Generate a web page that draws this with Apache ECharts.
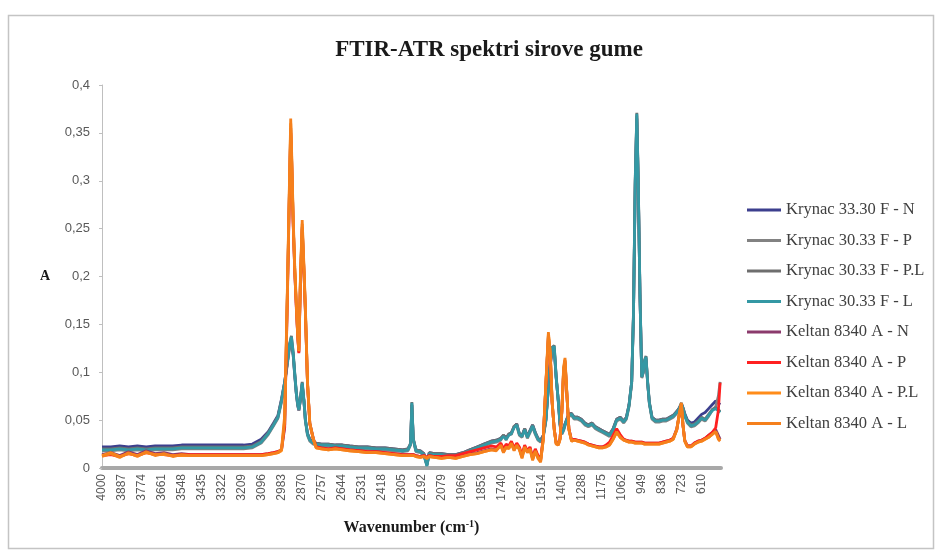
<!DOCTYPE html>
<html>
<head>
<meta charset="utf-8">
<script src="https://cdn.jsdelivr.net/npm/echarts@6/dist/echarts.min.js"></script>
<style>
html,body{margin:0;padding:0;background:#fff;}
#chart{width:938px;height:554px;}
</style>
</head>
<body>
<div id="chart"></div>
<script>
// Wavenumbers (cm-1), descending
const wavenumbers = [
  4000,3950,3900,3850,3800,3750,3700,3650,3600,3550,
  3500,3450,3400,3350,3300,3250,3200,3150,3100,3060,
  3030,3005,2985,2967,2952,2940,2933,2929,2919,2910,
  2901,2893,2887,2878,2868,2858,2850,2838,2825,2805,
  2789,2760,2720,2680,2640,2600,2550,2500,2450,2400,
  2350,2300,2270,2255,2248,2240,2225,2200,2180,2163,
  2150,2120,2080,2040,2000,1960,1920,1880,1840,1800,
  1770,1745,1730,1715,1700,1685,1670,1655,1640,1625,
  1610,1595,1580,1565,1550,1535,1520,1505,1490,1476,
  1465,1455,1443,1432,1420,1410,1400,1390,1382,1372,
  1360,1345,1330,1310,1290,1270,1250,1230,1210,1190,
  1170,1150,1130,1110,1090,1070,1050,1035,1020,1005,
  995,985,976,968,958,948,940,932,924,915,
  905,890,870,850,830,810,790,770,750,735,
  724,715,705,690,670,650,630,610,590,570,
  550,530,515,505
];

const krynacN = [
  .022,.022,.023,.022,.023,.022,.023,.023,.023,.024,
  .024,.024,.024,.024,.024,.024,.024,.025,.030,.038,
  .047,.055,.072,.090,.110,.127,.133,.135,.118,.096,
  .077,.065,.060,.071,.087,.069,.050,.036,.030,.027,
  .026,.025,.025,.024,.024,.023,.022,.022,.021,.021,
  .020,.019,.020,.025,.066,.030,.019,.018,.015,.004,
  .016,.015,.015,.014,.014,.016,.019,.022,.025,.028,
  .029,.031,.034,.032,.035,.037,.043,.046,.036,.034,
  .041,.033,.039,.045,.037,.031,.029,.034,.051,.084,
  .108,.122,.124,.094,.070,.046,.037,.041,.046,.051,
  .056,.057,.053,.053,.051,.047,.045,.047,.043,.041,
  .039,.037,.035,.041,.051,.053,.049,.053,.066,.090,
  .158,.295,.365,.296,.178,.095,.100,.111,.114,.089,
  .068,.053,.050,.050,.051,.051,.053,.055,.059,.063,
  .067,.063,.057,.050,.047,.048,.052,.056,.058,.062,
  .066,.070,.068,.066
];
const krynacP = [
  .018,.018,.019,.018,.019,.018,.019,.019,.019,.020,
  .020,.020,.020,.020,.020,.020,.020,.021,.026,.035,
  .044,.052,.069,.088,.108,.125,.131,.134,.118,.097,
  .077,.065,.060,.071,.088,.069,.049,.034,.028,.025,
  .024,.023,.023,.022,.022,.021,.020,.020,.019,.019,
  .018,.017,.018,.024,.066,.029,.017,.016,.013,.003,
  .014,.013,.013,.012,.012,.014,.017,.020,.023,.026,
  .027,.029,.035,.029,.036,.035,.044,.044,.034,.032,
  .041,.031,.037,.043,.035,.029,.027,.032,.049,.083,
  .108,.123,.125,.094,.069,.044,.035,.039,.044,.049,
  .054,.055,.051,.051,.049,.045,.043,.045,.041,.039,
  .037,.035,.033,.039,.049,.051,.047,.051,.064,.088,
  .158,.298,.368,.298,.178,.094,.099,.111,.115,.089,
  .067,.051,.048,.048,.049,.049,.051,.053,.057,.061,
  .066,.061,.054,.047,.043,.044,.047,.051,.049,.054,
  .060,.064,.075,.090
];
const krynacPL = [
  .020,.020,.021,.020,.021,.020,.021,.021,.021,.022,
  .022,.022,.022,.022,.022,.022,.022,.023,.028,.037,
  .046,.054,.071,.090,.111,.129,.135,.138,.121,.099,
  .079,.067,.062,.073,.090,.071,.051,.036,.030,.027,
  .026,.025,.025,.024,.024,.023,.022,.022,.021,.021,
  .020,.019,.020,.026,.069,.031,.019,.018,.015,.003,
  .016,.015,.015,.014,.014,.016,.019,.022,.025,.028,
  .029,.031,.034,.031,.035,.037,.043,.046,.036,.034,
  .041,.033,.039,.045,.037,.031,.029,.034,.051,.086,
  .111,.126,.128,.096,.071,.046,.037,.041,.046,.051,
  .056,.057,.053,.053,.051,.047,.045,.047,.043,.041,
  .039,.037,.035,.041,.051,.053,.049,.053,.066,.090,
  .162,.302,.371,.302,.182,.096,.101,.113,.117,.091,
  .069,.053,.050,.050,.051,.051,.053,.055,.059,.063,
  .068,.063,.056,.049,.045,.046,.049,.053,.051,.056,
  .061,.063,.061,.059
];
const krynacL = [
  .019,.019,.020,.019,.020,.019,.020,.020,.020,.021,
  .021,.021,.021,.021,.021,.021,.021,.022,.027,.036,
  .045,.053,.070,.089,.110,.128,.134,.137,.120,.098,
  .078,.066,.061,.072,.089,.070,.050,.035,.029,.026,
  .025,.024,.024,.023,.023,.022,.021,.021,.020,.020,
  .019,.018,.019,.025,.068,.030,.018,.017,.014,.002,
  .015,.014,.014,.013,.013,.015,.018,.021,.024,.027,
  .028,.030,.033,.030,.034,.036,.042,.045,.035,.033,
  .040,.032,.038,.044,.036,.030,.028,.033,.050,.085,
  .110,.125,.127,.095,.070,.045,.036,.040,.045,.050,
  .055,.056,.052,.052,.050,.046,.044,.046,.042,.040,
  .038,.036,.034,.040,.050,.052,.048,.052,.065,.090,
  .160,.300,.370,.300,.180,.095,.100,.112,.116,.090,
  .068,.052,.049,.049,.050,.050,.052,.054,.058,.062,
  .067,.062,.055,.048,.044,.045,.048,.052,.050,.055,
  .060,.062,.060,.058
];
const keltanN = [
  .014,.016,.013,.017,.014,.018,.015,.016,.014,.015,
  .014,.014,.014,.014,.014,.014,.014,.014,.014,.015,
  .016,.017,.019,.042,.180,.292,.355,.332,.256,.205,
  .168,.137,.121,.196,.252,.205,.164,.088,.047,.031,
  .022,.021,.020,.021,.020,.019,.018,.017,.017,.016,
  .015,.014,.014,.014,.015,.014,.013,.012,.013,.011,
  .013,.012,.011,.012,.011,.013,.015,.016,.018,.020,
  .019,.025,.017,.023,.021,.027,.019,.025,.020,.012,
  .023,.017,.021,.010,.019,.012,.008,.031,.088,.138,
  .117,.069,.041,.026,.025,.031,.059,.102,.112,.079,
  .041,.029,.030,.029,.028,.027,.025,.024,.023,.022,
  .022,.023,.025,.031,.038,.033,.030,.029,.028,.028,
  .028,.027,.027,.027,.027,.027,.027,.026,.026,.026,
  .026,.026,.026,.026,.027,.028,.029,.031,.041,.057,
  .066,.045,.029,.023,.023,.026,.028,.029,.031,.034,
  .037,.040,.034,.030
];
const keltanP = [
  .013,.014,.012,.015,.013,.016,.014,.014,.013,.014,
  .014,.014,.014,.014,.014,.014,.014,.014,.014,.015,
  .016,.017,.019,.045,.175,.288,.350,.330,.255,.204,
  .166,.136,.120,.193,.250,.204,.163,.088,.046,.030,
  .022,.021,.020,.021,.020,.019,.018,.017,.017,.016,
  .015,.014,.014,.014,.015,.014,.013,.012,.013,.011,
  .013,.012,.012,.013,.013,.015,.017,.019,.021,.023,
  .022,.026,.020,.025,.023,.028,.021,.026,.022,.014,
  .024,.018,.022,.011,.020,.013,.009,.032,.087,.136,
  .116,.068,.041,.026,.025,.031,.058,.100,.110,.078,
  .041,.029,.030,.029,.028,.027,.025,.024,.023,.022,
  .022,.024,.027,.034,.041,.035,.030,.029,.028,.028,
  .028,.027,.027,.027,.027,.027,.027,.026,.026,.026,
  .026,.026,.026,.026,.027,.028,.029,.031,.040,.056,
  .064,.044,.029,.023,.023,.026,.028,.029,.031,.034,
  .037,.042,.060,.089
];
const keltanPL = [
  .013,.016,.012,.015,.013,.016,.014,.014,.013,.013,
  .013,.013,.013,.013,.013,.013,.013,.013,.013,.014,
  .015,.016,.018,.050,.182,.296,.360,.336,.258,.207,
  .170,.138,.122,.198,.255,.207,.166,.089,.046,.030,
  .021,.020,.019,.020,.019,.018,.017,.016,.016,.015,
  .014,.013,.013,.013,.014,.013,.012,.011,.012,.010,
  .012,.011,.010,.011,.010,.012,.014,.015,.017,.019,
  .019,.023,.017,.021,.021,.025,.019,.023,.020,.011,
  .021,.017,.019,.009,.017,.011,.007,.029,.089,.140,
  .119,.070,.040,.025,.024,.030,.059,.103,.113,.079,
  .040,.028,.029,.028,.027,.026,.024,.023,.022,.021,
  .021,.022,.024,.030,.037,.032,.029,.028,.027,.027,
  .027,.026,.026,.026,.026,.026,.026,.025,.025,.025,
  .025,.025,.025,.025,.026,.027,.028,.030,.040,.057,
  .067,.045,.028,.022,.022,.025,.027,.028,.030,.032,
  .035,.038,.031,.029
];
const keltanL = [
  .012,.015,.011,.016,.012,.017,.013,.015,.012,.014,
  .013,.013,.013,.013,.013,.013,.013,.013,.013,.014,
  .015,.016,.020,.055,.186,.300,.365,.340,.262,.210,
  .172,.140,.123,.200,.259,.210,.168,.090,.047,.030,
  .021,.020,.019,.020,.019,.018,.017,.016,.016,.015,
  .014,.013,.013,.013,.014,.013,.012,.011,.012,.010,
  .012,.011,.010,.011,.010,.012,.014,.015,.017,.019,
  .018,.024,.016,.022,.020,.026,.018,.024,.019,.010,
  .022,.016,.020,.008,.018,.010,.006,.030,.090,.142,
  .120,.070,.040,.025,.024,.030,.060,.105,.115,.080,
  .040,.028,.029,.028,.027,.026,.024,.023,.022,.021,
  .021,.022,.024,.030,.038,.032,.029,.028,.027,.027,
  .027,.026,.026,.026,.026,.026,.026,.025,.025,.025,
  .025,.025,.025,.025,.026,.027,.028,.030,.040,.058,
  .068,.045,.028,.022,.022,.025,.027,.028,.030,.032,
  .035,.038,.030,.028
];

const seriesNames = [
  'Krynac 33.30 F - N','Krynac 30.33 F - P','Krynac 30.33 F - P.L','Krynac 30.33 F - L',
  'Keltan 8340 A - N','Keltan 8340 A - P','Keltan 8340 A - P.L','Keltan 8340 A - L'
];
const seriesValues = [krynacN, krynacP, krynacPL, krynacL, keltanN, keltanP, keltanPL, keltanL];
const seriesColors = ['#3c3f8e','#828282','#6e6e6e','#3498a4','#8b3a6c','#ff2020','#ff8c1a','#f5801c'];

const X0 = 4000;       // left end of the wavenumber axis
const X_END = 500;     // right end
const X_STEP = 113;    // tick step of the original chart

const series = seriesNames.map((name, i) => ({
  name: name,
  type: 'line',
  showSymbol: false,
  symbol: 'none',
  smooth: false,
  lineStyle: { width: 2.8, color: seriesColors[i] },
  itemStyle: { color: seriesColors[i] },
  emphasis: { disabled: true },
  data: wavenumbers.map((w, k) => [X0 - w, seriesValues[i][k]])
}));

const chart = echarts.init(document.getElementById('chart'), null, { renderer: 'canvas' });
chart.setOption({
  animation: false,
  backgroundColor: '#ffffff',
  title: {
    text: 'FTIR-ATR spektri sirove gume',
    left: 484,
    top: 34,
    textAlign: 'center',
    textStyle: { fontFamily: 'Liberation Serif', fontWeight: 'bold', fontSize: 23, color: '#1a1a1a' }
  },
  graphic: [{
    type: 'rect',
    shape: { x: 8.5, y: 15.5, width: 925, height: 533 },
    style: { fill: 'none', stroke: '#c4c4c4', lineWidth: 1.5 },
    z: -1
  }],
  legend: {
    orient: 'vertical',
    left: 747,
    top: 201,
    padding: 0,
    icon: 'rect',
    itemWidth: 34,
    itemHeight: 3,
    itemGap: 12.5,
    textStyle: { fontFamily: 'Liberation Serif', fontSize: 16.5, color: '#404040', lineHeight: 18 },
    data: seriesNames
  },
  grid: { left: 102, right: 217, top: 85, bottom: 86, containLabel: false },
  xAxis: {
    type: 'value',
    min: 0,
    max: X0 - X_END,
    interval: X_STEP,
    name: 'Wavenumber (cm{sup|-1})',
    nameLocation: 'middle',
    nameGap: 51,
    nameTextStyle: {
      fontFamily: 'Liberation Serif', fontWeight: 'bold', fontSize: 16, color: '#1a1a1a',
      rich: { sup: { fontFamily: 'Liberation Serif', fontWeight: 'bold', fontSize: 10, color: '#1a1a1a', verticalAlign: 'top', padding: [0, 0, 7, 0] } }
    },
    axisLine: { show: true, onZero: false, lineStyle: { color: '#a8a8a8', width: 4 } },
    axisTick: { show: false },
    splitLine: { show: false },
    axisLabel: {
      rotate: 90,
      margin: 6,
      fontFamily: 'Liberation Sans',
      fontSize: 12,
      color: '#595959',
      showMaxLabel: false,
      formatter: v => (v % X_STEP === 0 ? String(X0 - v) : '')
    }
  },
  yAxis: {
    type: 'value',
    min: 0,
    max: 0.4,
    interval: 0.05,
    name: 'A',
    nameLocation: 'middle',
    nameRotate: 0,
    nameGap: 52,
    nameTextStyle: { fontFamily: 'Liberation Serif', fontWeight: 'bold', fontSize: 14, color: '#1a1a1a' },
    axisLine: { show: true, lineStyle: { color: '#bfbfbf', width: 1 } },
    axisTick: { show: true, length: 3, lineStyle: { color: '#bfbfbf' } },
    splitLine: { show: false },
    axisLabel: {
      margin: 12,
      fontFamily: 'Liberation Sans',
      fontSize: 13,
      color: '#595959',
      formatter: v => String(Math.round(v * 100) / 100).replace('.', ',')
    }
  },
  series: series
});
</script>
</body>
</html>
